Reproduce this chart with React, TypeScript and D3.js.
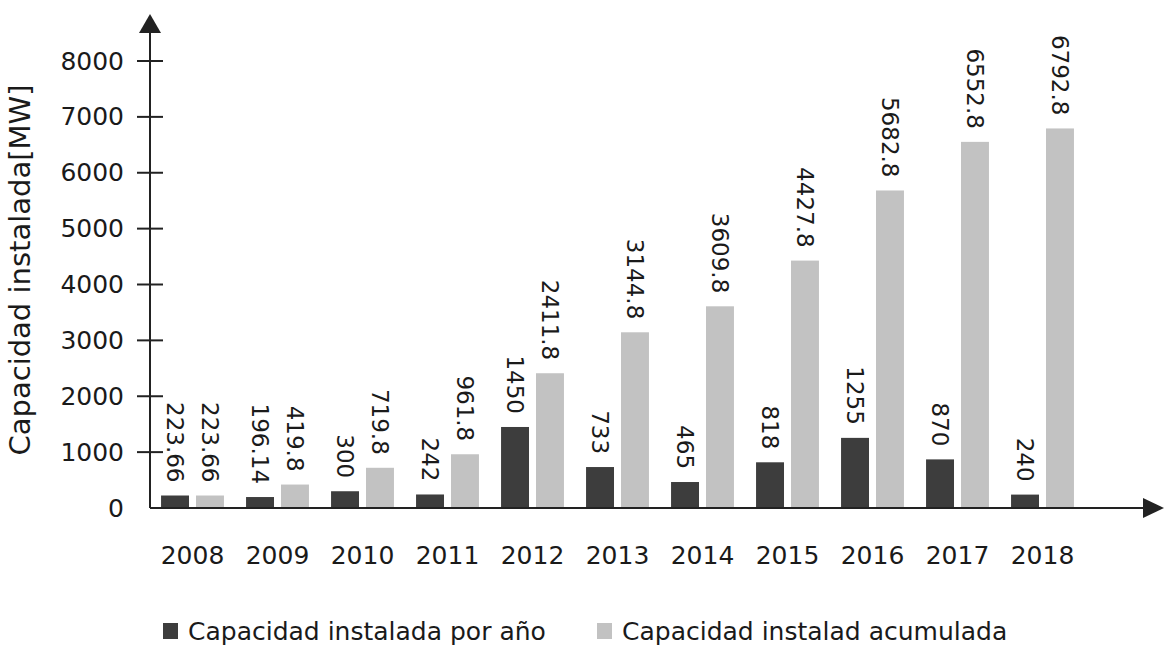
import React from "react";
import * as d3 from "d3";

const years = ["2008", "2009", "2010", "2011", "2012", "2013", "2014", "2015", "2016", "2017", "2018"];
const porAno = [223.66, 196.14, 300, 242, 1450, 733, 465, 818, 1255, 870, 240];
const acumulada = [223.66, 419.8, 719.8, 961.8, 2411.8, 3144.8, 3609.8, 4427.8, 5682.8, 6552.8, 6792.8];
const yTicks = [0, 1000, 2000, 3000, 4000, 5000, 6000, 7000, 8000];
const seriesNames = ["Capacidad instalada por año", "Capacidad instalad acumulada"];
const seriesColors = ["#3d3d3d", "#c2c2c2"];

const W = 1168;
const H = 651;
const FONT = "'DejaVu Sans', Verdana, sans-serif";
const TXT = "#1a1a1a";

export default function App() {
  const x0 = d3.scaleBand<string>().domain(years).range([150, 1085]).paddingInner(0.26).paddingOuter(0.13);
  const x1 = d3.scaleBand<string>().domain(["a", "b"]).range([0, x0.bandwidth()]).paddingInner(0.2);
  const y = d3.scaleLinear().domain([0, 8000]).range([508, 61]);
  const axisX = 150;
  const axisY = y(0);

  const fmt = (v: number) => String(v);

  const series = [porAno, acumulada];
  const keys = ["a", "b"];

  return (
    <div style={{ position: "absolute", left: 0, top: 0 }}>
      <svg width={W} height={H} style={{ display: "block", background: "#fff" }} fontFamily={FONT}>
        <rect x={0} y={0} width={W} height={H} fill="#fff" />
        {/* bars */}
        {series.map((vals, si) =>
          vals.map((v, i) => {
            const bx = (x0(years[i]) as number) + (x1(keys[si]) as number);
            const bw = x1.bandwidth();
            const top = y(v);
            return (
              <g key={`b${si}-${i}`}>
                <rect x={bx} y={top} width={bw} height={axisY - top} fill={seriesColors[si]} />
                <text
                  transform={`translate(${bx + bw / 2},${top - 13}) rotate(90)`}
                  textAnchor="end"
                  dominantBaseline="central"
                  fontSize={23}
                  fill={TXT}
                >
                  {fmt(v)}
                </text>
              </g>
            );
          })
        )}
        {/* y axis */}
        <line x1={axisX} x2={axisX} y1={axisY} y2={30} stroke="#222" strokeWidth={2} />
        <path d={`M${axisX},14 L${axisX - 11},33 L${axisX + 11},33 Z`} fill="#222" />
        {yTicks.map((t) => (
          <g key={`t${t}`}>
            {t > 0 && <line x1={137} x2={163} y1={y(t)} y2={y(t)} stroke="#222" strokeWidth={2} />}
            <text x={124} y={y(t)} textAnchor="end" dominantBaseline="central" fontSize={25} fill={TXT}>
              {t}
            </text>
          </g>
        ))}
        {/* x axis */}
        <line x1={axisX} x2={1148} y1={axisY} y2={axisY} stroke="#222" strokeWidth={2} />
        <path d={`M1164,${axisY} L1143,${axisY - 10} L1143,${axisY + 10} Z`} fill="#222" />
        {years.map((yr) => (
          <text
            key={`x${yr}`}
            x={(x0(yr) as number) + x0.bandwidth() / 2}
            y={564}
            textAnchor="middle"
            fontSize={25}
            fill={TXT}
          >
            {yr}
          </text>
        ))}
        {/* y title */}
        <text transform={`translate(30,270) rotate(-90)`} textAnchor="middle" fontSize={29} fill={TXT}>
          Capacidad instalada[MW]
        </text>
        {/* legend */}
        {seriesNames.map((name, i) => {
          const lx = i === 0 ? 163 : 597;
          return (
            <g key={`l${i}`}>
              <rect x={lx} y={623} width={15} height={16} fill={seriesColors[i]} />
              <text x={lx + 25} y={640} fontSize={25} fill={TXT}>
                {name}
              </text>
            </g>
          );
        })}
      </svg>
    </div>
  );
}
